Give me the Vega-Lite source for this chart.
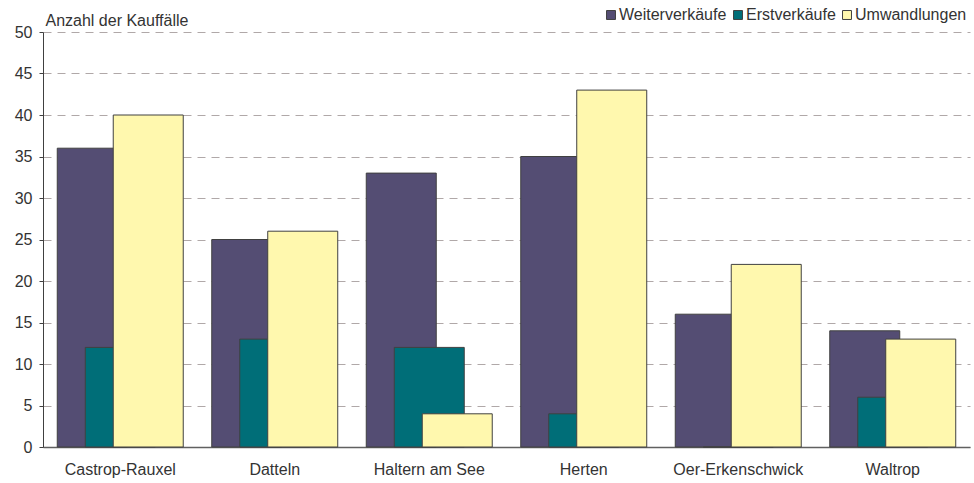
{
  "$schema": "https://vega.github.io/schema/vega-lite/v6.json",
  "width": 927,
  "height": 415,
  "autosize": {"type": "none"},
  "padding": {"left": 43, "top": 32, "right": 4, "bottom": 36},
  "background": "white",
  "config": {
    "view": {"stroke": null},
    "font": "Liberation Sans",
    "axis": {"labelFont": "Liberation Sans", "titleFont": "Liberation Sans", "labelColor": "#333333", "titleColor": "#333333"},
    "legend": {"labelFont": "Liberation Sans"}
  },
  "data": {
    "values": [
      {"Gemeinde": "Castrop-Rauxel", "Art": "Weiterverkäufe", "Anzahl": 36},
      {"Gemeinde": "Datteln", "Art": "Weiterverkäufe", "Anzahl": 25},
      {"Gemeinde": "Haltern am See", "Art": "Weiterverkäufe", "Anzahl": 33},
      {"Gemeinde": "Herten", "Art": "Weiterverkäufe", "Anzahl": 35},
      {"Gemeinde": "Oer-Erkenschwick", "Art": "Weiterverkäufe", "Anzahl": 16},
      {"Gemeinde": "Waltrop", "Art": "Weiterverkäufe", "Anzahl": 14},
      {"Gemeinde": "Castrop-Rauxel", "Art": "Erstverkäufe", "Anzahl": 12},
      {"Gemeinde": "Datteln", "Art": "Erstverkäufe", "Anzahl": 13},
      {"Gemeinde": "Haltern am See", "Art": "Erstverkäufe", "Anzahl": 12},
      {"Gemeinde": "Herten", "Art": "Erstverkäufe", "Anzahl": 4},
      {"Gemeinde": "Oer-Erkenschwick", "Art": "Erstverkäufe", "Anzahl": 0},
      {"Gemeinde": "Waltrop", "Art": "Erstverkäufe", "Anzahl": 6},
      {"Gemeinde": "Castrop-Rauxel", "Art": "Umwandlungen", "Anzahl": 40},
      {"Gemeinde": "Datteln", "Art": "Umwandlungen", "Anzahl": 26},
      {"Gemeinde": "Haltern am See", "Art": "Umwandlungen", "Anzahl": 4},
      {"Gemeinde": "Herten", "Art": "Umwandlungen", "Anzahl": 43},
      {"Gemeinde": "Oer-Erkenschwick", "Art": "Umwandlungen", "Anzahl": 22},
      {"Gemeinde": "Waltrop", "Art": "Umwandlungen", "Anzahl": 13}
    ]
  },
  "mark": {"type": "bar", "width": 70, "stroke": "#404040", "strokeWidth": 1},
  "encoding": {
    "x": {
      "field": "Gemeinde", "type": "nominal", "sort": null,
      "scale": {"paddingInner": 0.0939, "paddingOuter": 0.04695},
      "axis": {"title": null, "labelAngle": 0, "ticks": false, "labelPadding": 14, "labelFontSize": 16, "domainColor": "#606060", "domainWidth": 1.5, "grid": false}
    },
    "xOffset": {
      "field": "Art", "type": "nominal",
      "sort": ["Weiterverkäufe", "Erstverkäufe", "Umwandlungen"],
      "scale": {"paddingInner": 0, "paddingOuter": 1}
    },
    "y": {
      "field": "Anzahl", "type": "quantitative",
      "scale": {"domain": [0, 50], "nice": false},
      "axis": {
        "values": [0, 5, 10, 15, 20, 25, 30, 35, 40, 45, 50],
        "title": "Anzahl der Kauffälle", "titleAngle": 0, "titleAlign": "left", "titleBaseline": "alphabetic",
        "titleX": 2, "titleY": -7, "titleFontSize": 16, "titleFontWeight": "normal",
        "labelFontSize": 16, "labelPadding": 7, "tickSize": 4, "tickColor": "#404040", "domainColor": "#404040",
        "grid": true, "gridDash": [8, 6], "gridColor": "#b0a8a8", "gridWidth": 1
      }
    },
    "color": {
      "field": "Art", "type": "nominal",
      "sort": ["Weiterverkäufe", "Erstverkäufe", "Umwandlungen"],
      "scale": {"domain": ["Weiterverkäufe", "Erstverkäufe", "Umwandlungen"], "range": ["#544d73", "#006e78", "#fff8ae"]},
      "legend": {
        "title": null, "orient": "none", "direction": "horizontal", "legendX": 560, "legendY": -25,
        "symbolType": "square", "symbolSize": 80, "symbolStrokeColor": "#404040", "symbolStrokeWidth": 1,
        "labelFontSize": 16, "labelColor": "#333333", "labelOffset": 0, "columnPadding": 3, "padding": 0
      }
    }
  }
}
